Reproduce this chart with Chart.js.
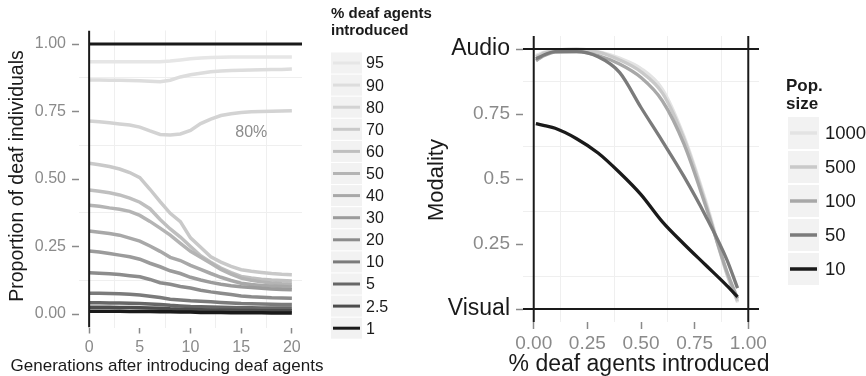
<!DOCTYPE html>
<html><head><meta charset="utf-8">
<script src="https://cdn.jsdelivr.net/npm/chart.js@4.4.0/dist/chart.umd.min.js"></script>
<style>
html,body{margin:0;padding:0;background:#fff;}
#wrap{position:relative;width:866px;height:376px;overflow:hidden;background:#fff;}
canvas{position:absolute;top:0;}
</style></head><body>
<div id="wrap">
<canvas id="left" width="440" height="376" style="left:0px"></canvas>
<canvas id="right" width="446" height="376" style="left:420px"></canvas>
</div>
<script>
// ---------- LEFT PANEL DATA ----------
const generations = [0,1,2,3,4,5,6,7,8,9,10,11,12,13,14,15,16,17,18,19,20];
const deaf95 = [0.934,0.934,0.934,0.934,0.934,0.934,0.934,0.934,0.937,0.941,0.945,0.948,0.950,0.951,0.952,0.952,0.952,0.952,0.952,0.952,0.952];
const deaf90 = [0.867,0.867,0.866,0.866,0.865,0.864,0.862,0.860,0.866,0.878,0.886,0.892,0.897,0.900,0.902,0.903,0.904,0.905,0.906,0.906,0.907];
const deaf80 = [0.715,0.712,0.708,0.704,0.700,0.692,0.678,0.665,0.663,0.667,0.680,0.705,0.722,0.735,0.742,0.746,0.749,0.750,0.751,0.752,0.753];
const deaf70 = [0.558,0.553,0.546,0.537,0.524,0.505,0.462,0.416,0.373,0.342,0.282,0.247,0.212,0.192,0.176,0.164,0.158,0.154,0.150,0.147,0.145];
const deaf60 = [0.459,0.455,0.449,0.441,0.429,0.414,0.390,0.350,0.315,0.285,0.250,0.216,0.192,0.170,0.153,0.139,0.133,0.129,0.126,0.124,0.122];
const deaf50 = [0.403,0.399,0.393,0.388,0.380,0.365,0.343,0.318,0.292,0.262,0.232,0.210,0.188,0.165,0.148,0.133,0.125,0.119,0.115,0.112,0.110];
const deaf40 = [0.307,0.303,0.298,0.292,0.281,0.270,0.252,0.232,0.210,0.198,0.180,0.165,0.150,0.136,0.124,0.114,0.109,0.106,0.104,0.102,0.100];
const deaf30 = [0.233,0.230,0.224,0.218,0.212,0.203,0.188,0.175,0.160,0.150,0.136,0.126,0.117,0.110,0.105,0.101,0.098,0.095,0.093,0.091,0.090];
const deaf20 = [0.153,0.151,0.149,0.146,0.142,0.138,0.128,0.116,0.110,0.102,0.096,0.088,0.082,0.077,0.072,0.067,0.064,0.062,0.060,0.059,0.058];
const deaf10 = [0.077,0.077,0.076,0.075,0.073,0.070,0.066,0.061,0.055,0.052,0.049,0.047,0.045,0.043,0.041,0.039,0.038,0.037,0.036,0.035,0.035];
const deaf5  = [0.042,0.042,0.041,0.041,0.040,0.039,0.037,0.035,0.032,0.030,0.028,0.027,0.026,0.025,0.024,0.023,0.023,0.022,0.022,0.022,0.022];
const deaf2p5= [0.025,0.025,0.025,0.024,0.024,0.023,0.022,0.021,0.019,0.018,0.017,0.016,0.015,0.014,0.014,0.013,0.013,0.012,0.012,0.012,0.012];
const deaf1  = [0.010,0.010,0.010,0.010,0.009,0.009,0.009,0.008,0.008,0.007,0.007,0.006,0.006,0.006,0.005,0.005,0.005,0.005,0.004,0.004,0.004];
const leftLabels = ['95','90','80','70','60','50','40','30','20','10','5','2.5','1'];
const leftSeries = [deaf95,deaf90,deaf80,deaf70,deaf60,deaf50,deaf40,deaf30,deaf20,deaf10,deaf5,deaf2p5,deaf1];
const leftColors = ['#e6e6e6','#dddddd','#d3d3d3','#c9c9c9','#bfbfbf','#b4b4b4','#a8a8a8','#9b9b9b','#8c8c8c','#7b7b7b','#676767','#4d4d4d','#1a1a1a'];
const leftXTicks = [0,5,10,15,20];
const leftXTickLabels = ['0','5','10','15','20'];
const leftYTicks = [0,0.25,0.5,0.75,1];
const leftYTickLabels = ['0.00','0.25','0.50','0.75','1.00'];
const leftRefX = [0];   // vertical reference line
const leftRefY = [1];   // horizontal reference line
const leftNote = {text:'80%', x:16, y:0.672};

// ---------- RIGHT PANEL DATA ----------
const deafFractions = [0.01,0.025,0.05,0.1,0.2,0.3,0.4,0.5,0.6,0.7,0.8,0.9,0.95];
const pop1000 = [0.975,0.980,0.988,0.995,1.000,0.990,0.965,0.925,0.845,0.665,0.420,0.140,0.025];
const pop500  = [0.970,0.975,0.985,0.993,0.998,0.988,0.958,0.912,0.830,0.655,0.410,0.135,0.030];
const pop100  = [0.955,0.963,0.975,0.988,0.990,0.975,0.942,0.890,0.800,0.635,0.400,0.145,0.040];
const pop50   = [0.962,0.968,0.978,0.990,0.990,0.970,0.910,0.775,0.645,0.510,0.360,0.190,0.080];
const pop10   = [0.713,0.710,0.705,0.695,0.655,0.600,0.525,0.440,0.335,0.250,0.170,0.090,0.047];
const popLabels = ['1000','500','100','50','10'];
const popSeries = [pop1000,pop500,pop100,pop50,pop10];
const popColors = ['#e3e3e3','#c9c9c9','#a8a8a8','#7b7b7b','#1a1a1a'];
const rightXTicks = [0,0.25,0.5,0.75,1];
const rightXTickLabels = ['0.00','0.25','0.50','0.75','1.00'];
const rightYTicks = [0,0.25,0.5,0.75,1];
const rightYTickLabels = ['Visual','0.25','0.5','0.75','Audio'];
const rightRefX = [0,1];
const rightRefY = [0,1];

// ---------- helpers ----------
const FF = '"Liberation Sans", Arial, Helvetica, sans-serif';
const GRID = '#efefef';
const TICKGREY = '#8a8a8a';
const INK = '#1a1a1a';
const mids = t => t.slice(1).map((v,i)=>(v+t[i])/2);

function axis(cfg){
  const minor = mids(cfg.major);
  const all = cfg.major.concat(minor).sort((a,b)=>a-b);
  const isMajor = v => cfg.major.indexOf(v) >= 0;
  return {
    type:'linear', min:cfg.min, max:cfg.max,
    afterBuildTicks: s => { s.ticks = all.map(v=>({value:v})); },
    afterFit: s => { if (cfg.isX) s.height = cfg.size; else s.width = cfg.size; },
    ticks:{
      autoSkip:false, maxRotation:0, minRotation:0, padding:cfg.pad,
      callback:(v)=>{ const i = cfg.major.indexOf(v); return i>=0 ? cfg.labels[i] : ''; },
      font: cfg.font, color: cfg.color
    },
    grid:{
      drawOnChartArea:true, drawTicks:true, tickLength:cfg.tickLen,
      color: c => (c.tick && !isMajor(c.tick.value)) ? GRID : 'rgba(0,0,0,0)',
      tickColor: c => (c.tick && isMajor(c.tick.value)) ? TICKGREY : 'rgba(0,0,0,0)',
      lineWidth:1, tickWidth:1.5
    },
    border:{display:false}
  };
}

function refDatasets(xs, ys, xr, yr, wX, wY){
  const out = [];
  xs.forEach(v=>out.push({data:[{x:v,y:yr[0]},{x:v,y:yr[1]}], borderColor:INK, borderWidth:wX, pointRadius:0, order:0, ref:true}));
  ys.forEach(v=>out.push({data:[{x:xr[0],y:v},{x:xr[1],y:v}], borderColor:INK, borderWidth:wY, pointRadius:0, order:0, ref:true}));
  return out;
}

const textPlugin = {
  id:'textPlugin',
  afterDraw(chart, args, o){
    const ctx = chart.ctx;
    (o.items||[]).forEach(it=>{
      let x = it.x, y = it.y;
      if (it.xv !== undefined) x = chart.scales.x.getPixelForValue(it.xv);
      if (it.yv !== undefined) y = chart.scales.y.getPixelForValue(it.yv);
      ctx.save();
      ctx.translate(x,y); ctx.rotate(it.rot||0);
      ctx.font = it.font; ctx.fillStyle = it.color || INK;
      ctx.textAlign = it.align || 'center'; ctx.textBaseline = 'middle';
      ctx.fillText(it.text,0,0);
      ctx.restore();
    });
  }
};

const keyLegend = {
  id:'keyLegend',
  afterDraw(chart, args, o){
    if (!o.labels) return;
    const ctx = chart.ctx; ctx.save();
    ctx.textAlign='left'; ctx.textBaseline='middle';
    ctx.fillStyle = INK; ctx.font = o.titleFont;
    o.title.forEach((t,i)=>ctx.fillText(t, o.titleX, o.titleY + i*o.titleStep));
    o.labels.forEach((lab,i)=>{
      const cy = o.y0 + i*o.step;
      ctx.fillStyle = '#f2f2f2';
      ctx.fillRect(o.x, cy - o.boxH/2, o.boxW, o.boxH);
      ctx.strokeStyle = o.colors[i]; ctx.lineWidth = o.lineW; ctx.lineCap='butt';
      ctx.beginPath(); ctx.moveTo(o.x + o.inset, cy); ctx.lineTo(o.x + o.boxW - o.inset, cy); ctx.stroke();
      ctx.fillStyle = INK; ctx.font = o.font;
      ctx.fillText(lab, o.labelX, cy + 1);
    });
    ctx.restore();
  }
};

Chart.register(textPlugin, keyLegend);

// ---------- LEFT CHART ----------
const leftDatasets = leftSeries.map((s,i)=>({
  label:leftLabels[i],
  data:generations.map((g,j)=>({x:g,y:s[j]})),
  borderColor:leftColors[i], borderWidth:3.5, pointRadius:0, tension:0, fill:false,
  order: leftSeries.length - i
})).concat(refDatasets(leftRefX, leftRefY, [0,21], [-0.05,1.05], 2, 3));

new Chart(document.getElementById('left'), {
  type:'line',
  data:{datasets:leftDatasets},
  options:{
    responsive:false, animation:false, devicePixelRatio:1,
    layout:{padding:{left:0,right:138,top:30.5,bottom:0}},
    scales:{
      x: axis({isX:true,min:-1,max:21,major:leftXTicks,labels:leftXTickLabels,size:48.5,tickLen:6,pad:4,
               font:{family:FF,size:16}, color:TICKGREY}),
      y: axis({isX:false,min:-0.05,max:1.05,major:leftYTicks,labels:leftYTickLabels,size:79,tickLen:7,pad:6,
               font:{family:FF,size:16}, color:TICKGREY})
    },
    plugins:{
      legend:{display:false}, tooltip:{enabled:false},
      textPlugin:{items:[
        {text:'Proportion of deaf individuals', x:18, y:176, rot:-Math.PI/2, font:'19.5px '+FF},
        {text:'Generations after introducing deaf agents', x:167, y:366, font:'17px '+FF},
        {text:leftNote.text, xv:leftNote.x, yv:leftNote.y, font:'16px '+FF, color:'#8c8c8c'}
      ]},
      keyLegend:{
        labels:leftLabels, colors:leftColors,
        title:['% deaf agents','introduced'], titleFont:'bold 15px '+FF, titleX:331, titleY:14, titleStep:17,
        x:331, y0:63, step:22.1, boxW:31, boxH:21, inset:2, lineW:3, labelX:366, font:'16px '+FF
      }
    }
  }
});

// ---------- RIGHT CHART ----------
const rightDatasets = popSeries.map((s,i)=>({
  label:popLabels[i],
  data:deafFractions.map((f,j)=>({x:f,y:s[j]})),
  borderColor:popColors[i], borderWidth:3.3, pointRadius:0, fill:false,
  cubicInterpolationMode:'monotone', tension:0.4,
  order: popSeries.length - i
})).concat(refDatasets(rightRefX, rightRefY, [-0.05,1.05], [-0.05,1.05], 2, 2));

new Chart(document.getElementById('right'), {
  type:'line',
  data:{datasets:rightDatasets},
  options:{
    responsive:false, animation:false, devicePixelRatio:1,
    layout:{padding:{left:0,right:107,top:36,bottom:0}},
    scales:{
      x: axis({isX:true,min:-0.05,max:1.05,major:rightXTicks,labels:rightXTickLabels,size:54,tickLen:7,pad:3,
               font:{family:FF,size:19}, color:TICKGREY}),
      y: axis({isX:false,min:-0.05,max:1.05,major:rightYTicks,labels:rightYTickLabels,size:103,tickLen:7,pad:6,
               font: c => ({family:FF, size: (c.tick && (c.tick.value===0||c.tick.value===1)) ? 23 : 19}),
               color: c => (c.tick && (c.tick.value===0||c.tick.value===1)) ? INK : TICKGREY})
    },
    plugins:{
      legend:{display:false}, tooltip:{enabled:false},
      textPlugin:{items:[
        {text:'Modality', x:17, y:180, rot:-Math.PI/2, font:'22px '+FF},
        {text:'% deaf agents introduced', x:219, y:365, font:'23px '+FF}
      ]},
      keyLegend:{
        labels:popLabels, colors:popColors,
        title:['Pop.','size'], titleFont:'bold 17px '+FF, titleX:366, titleY:86, titleStep:18,
        x:368, y0:133, step:34, boxW:31, boxH:32, inset:2, lineW:3.5, labelX:405, font:'18.5px '+FF
      }
    }
  }
});
</script>
</body></html>
